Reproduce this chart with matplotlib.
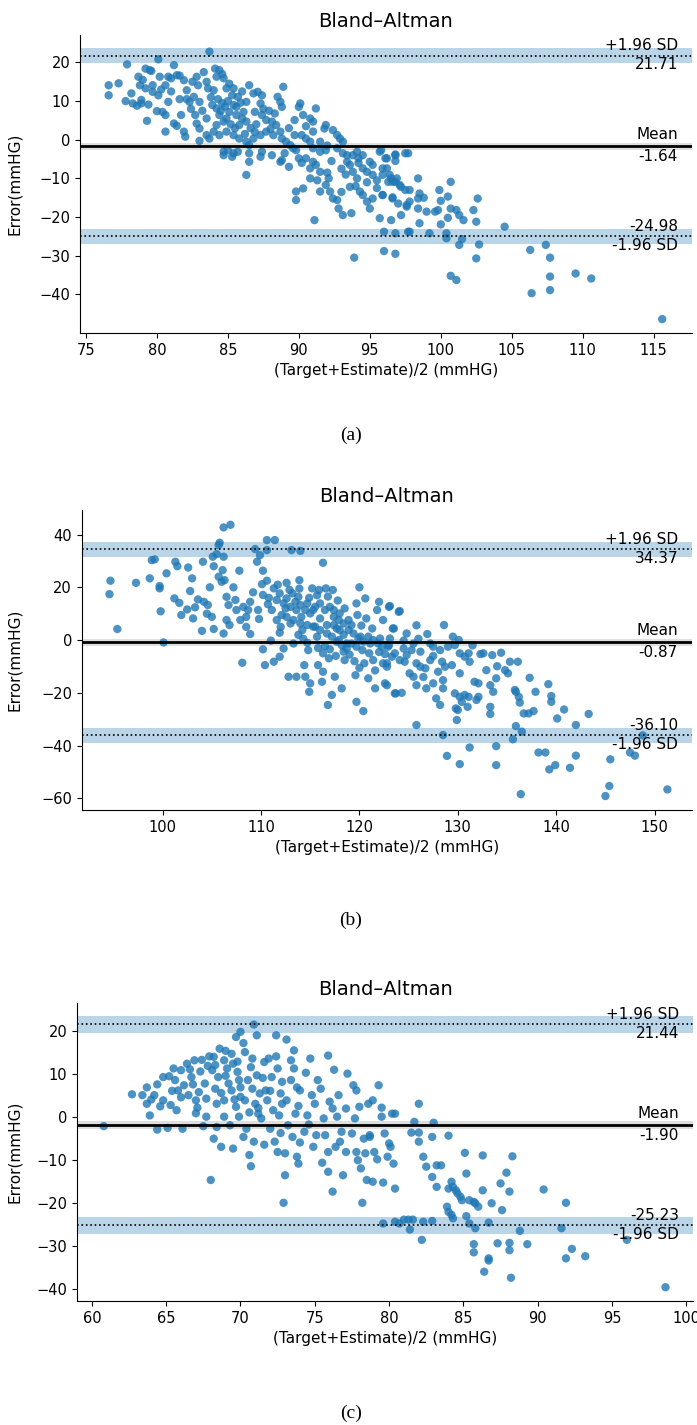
import numpy as np
import matplotlib
matplotlib.use('Agg')
import matplotlib.pyplot as plt
import matplotlib.transforms as mtransforms

# ---- data: (mean, difference) ----
a_points = [
    (83.7, 22.8), (77.9, 19.5), (80.1, 20.8), (81.2, 19.3), (76.6, 14.1), (76.6, 11.5), (77.3, 14.6),
    (79.2, 18.4), (79.5, 18.0), (79.6, 17.8), (78.7, 16.3), (78.8, 14.1), (79.2, 13.3), (79.7, 14.1),
    (79.7, 12.4), (80.1, 11.5), (80.2, 16.3), (80.6, 14.1), (80.8, 16.3), (81.0, 15.9), (81.4, 16.7),
    (81.6, 16.6), (81.9, 15.4), (78.3, 9.4), (78.6, 8.8), (78.9, 10.3), (78.9, 9.4), (79.4, 9.1),
    (80.0, 7.4), (80.4, 7.2), (80.6, 6.4), (80.8, 9.8), (81.2, 4.2), (81.4, 3.6), (81.9, 2.1),
    (80.6, 2.1), (79.3, 4.9), (81.6, 10.5), (82.1, 12.8), (82.1, 10.5), (82.3, 9.8), (82.6, 11.1),
    (82.8, 16.3), (82.9, 14.1), (83.0, 9.8), (82.7, 6.4), (81.7, 6.4), (82.8, 4.2), (83.0, 2.9),
    (83.5, 1.2), (83.5, 5.5), (84.1, 18.4), (84.4, 18.0), (84.2, 16.3), (84.7, 15.9), (84.9, 13.3),
    (85.4, 13.3), (85.7, 11.1), (86.3, 9.8), (83.5, 15.0), (83.6, 13.3), (84.0, 12.8), (83.9, 9.0),
    (84.2, 8.1), (84.4, 6.4), (84.7, 4.7), (84.9, 5.5), (85.1, 7.2), (85.4, 9.0), (85.6, 6.4),
    (85.8, 3.8), (86.1, 7.2), (86.3, 4.7), (84.2, 3.8), (84.0, 2.1), (84.4, 1.2), (84.9, 2.1),
    (85.4, 1.2), (85.8, 0.3), (86.3, -0.5), (83.7, 0.3), (84.7, -3.1), (85.0, -2.7), (85.4, -3.5),
    (85.7, -3.1), (85.3, -4.4), (84.7, -4.0), (86.5, 14.1), (86.8, 12.0), (87.1, 12.4), (87.4, 11.5),
    (87.3, 9.4), (86.9, 7.2), (87.4, 6.4), (87.7, 5.1), (88.1, 4.7), (88.4, 3.8), (88.5, 11.1),
    (88.7, 9.8), (88.9, 13.7), (88.8, 8.5), (88.3, 6.8), (86.5, -1.4), (86.8, 0.3), (87.3, 1.2),
    (87.7, 2.1), (88.2, 1.2), (88.7, 2.1), (88.8, 0.3), (89.1, -0.5), (89.4, -1.4), (89.6, -2.2),
    (89.8, -2.7), (90.0, -4.8), (87.4, -3.1), (88.1, -4.0), (87.3, -4.4), (86.5, -5.7), (86.5, -3.5),
    (88.7, -5.7), (88.8, -5.3), (86.3, -9.1), (90.1, 9.4), (90.0, 8.5), (90.3, 6.4), (90.8, 5.5),
    (91.0, 4.7), (91.2, 8.1), (89.7, 5.1), (89.7, 1.2), (90.2, 1.2), (90.5, 0.3), (91.0, 2.1),
    (90.8, -0.5), (91.5, -0.5), (91.9, 3.8), (91.8, 2.9), (92.4, 2.5), (92.7, 1.2), (92.9, 0.3),
    (93.1, -0.5), (91.0, -2.2), (91.5, -3.1), (91.9, -2.7), (90.5, -4.8), (91.0, -5.7), (90.8, -7.4),
    (91.2, -6.5), (91.5, -8.3), (90.8, -10.0), (90.3, -12.6), (89.8, -13.4), (89.8, -15.6),
    (91.5, -13.4), (92.1, -10.0), (91.9, -11.7), (92.2, -13.4), (92.4, -15.2), (92.7, -15.6),
    (92.8, -17.8), (93.1, -19.5), (93.7, -19.0), (91.1, -20.8), (92.7, -2.2), (93.1, -3.5),
    (93.4, -4.0), (93.8, -4.0), (94.1, -3.1), (94.2, -4.8), (94.5, -4.0), (93.4, -5.7), (93.6, -6.5),
    (93.8, -8.3), (94.1, -10.0), (93.6, -12.2), (94.5, -7.4), (94.8, -8.3), (95.0, -5.7), (95.2, -6.5),
    (95.2, -9.1), (95.7, -3.1), (96.2, -4.8), (96.8, -4.0), (97.5, -3.5), (94.3, -13.4), (94.5, -14.3),
    (94.8, -16.0), (95.0, -17.8), (95.2, -15.2), (95.7, -20.3), (95.9, -14.3), (96.2, -7.4),
    (96.4, -9.1), (96.6, -10.9), (96.9, -10.0), (97.1, -11.7), (96.6, -15.2), (97.0, -16.5),
    (97.2, -19.5), (97.6, -16.9), (96.5, -20.8), (96.0, -23.8), (96.8, -24.2), (97.7, -23.8),
    (96.0, -28.8), (96.8, -29.5), (93.9, -30.5), (95.8, -2.7), (96.1, -4.8), (96.8, -3.8),
    (96.8, -5.5), (97.7, -3.5), (95.9, -7.4), (96.5, -10.0), (96.8, -10.9), (97.2, -12.2),
    (97.5, -13.0), (97.8, -13.0), (98.4, -10.0), (95.9, -9.1), (96.3, -10.9), (95.9, -14.3),
    (96.6, -14.9), (97.6, -17.3), (97.8, -16.0), (98.4, -15.2), (98.5, -13.9), (98.8, -15.0),
    (98.4, -17.8), (99.0, -18.6), (99.6, -18.6), (99.8, -18.2), (99.9, -13.0), (100.0, -15.8),
    (100.5, -14.7), (100.7, -10.9), (100.7, -17.8), (101.1, -18.2), (101.3, -19.5), (101.6, -20.8),
    (102.3, -18.2), (102.5, -21.2), (102.6, -15.2), (100.5, -20.2), (100.0, -21.9), (98.5, -21.6),
    (97.8, -23.8), (99.2, -24.2), (100.4, -24.2), (100.4, -25.5), (101.3, -27.2), (101.5, -25.7),
    (102.7, -27.1), (104.5, -22.5), (102.5, -30.7), (100.7, -35.2), (101.1, -36.3), (106.3, -28.5),
    (107.4, -27.2), (107.7, -30.5), (107.7, -35.4), (107.7, -38.9), (106.4, -39.7), (109.5, -34.6),
    (110.6, -35.9), (115.6, -46.4),
    (83.8, 11.0), (84.3, 10.5), (84.6, 9.5), (85.0, 10.0), (85.3, 11.5), (85.6, 8.5), (85.9, 9.6),
    (86.0, 5.5), (86.6, 3.0), (86.9, 2.0), (87.0, 4.0), (87.5, 8.0), (87.9, 7.5), (88.0, 2.8),
    (84.5, 7.5), (84.8, 8.6), (85.2, 4.0), (85.5, 3.0), (86.2, 1.5), (86.0, 12.5), (85.1, 14.5),
    (84.6, 17.0), (83.3, 17.5), (82.5, 15.0), (83.2, 7.5), (82.4, 8.0), (81.0, 12.5), (80.3, 13.0),
    (79.0, 15.5), (78.2, 12.0), (77.8, 10.0), (82.0, 0.8), (83.0, -0.3), (89.0, -3.5), (89.3, 3.0),
    (90.5, 3.5), (92.0, -1.5), (92.3, -5.5), (93.3, -9.0), (94.0, -12.0), (94.8, -11.0), (95.5, -12.5),
    (95.5, -10.5), (94.2, -6.0), (93.0, -7.5), (92.0, -8.5), (91.3, -10.5), (93.0, -13.5), (90.2, -6.0),
    (89.3, -7.0),
]

b_points = [
    (94.7, 22.5), (94.6, 17.4), (95.4, 4.2), (97.3, 21.7), (98.7, 23.4), (98.9, 30.3), (99.2, 30.6),
    (99.7, 20.5), (99.7, 19.6), (99.8, 10.9), (100.1, -0.9), (100.4, 25.3), (101.3, 29.7), (101.5, 28.0),
    (101.2, 15.8), (101.7, 14.1), (101.9, 9.5), (102.5, 11.6), (102.6, 27.5), (102.8, 18.6), (103.0, 23.4),
    (103.1, 8.2), (103.3, 12.4), (103.6, 15.4), (104.0, 3.5), (104.1, 29.7), (104.2, 14.5), (104.6, 13.3),
    (104.8, 20.0), (105.0, 8.8), (105.1, 31.6), (105.2, 4.2), (105.2, 28.0), (105.5, 32.6), (105.7, 36.0),
    (105.8, 36.9), (105.7, 24.0), (106.0, 22.1), (106.1, 26.5), (106.2, 31.6), (106.2, 42.7), (106.9, 43.7),
    (106.3, 22.7), (106.5, 16.4), (106.7, 13.3), (106.5, 7.6), (106.2, 2.5), (106.8, 5.7), (107.4, 15.2),
    (107.5, 11.4), (107.8, 26.3), (107.9, 7.6), (108.1, -8.6), (108.2, 12.6), (108.5, 8.8), (108.7, 11.4),
    (108.9, 14.5), (108.9, 2.3), (109.2, 18.1), (109.4, 34.5), (109.6, 29.7), (109.7, 11.4), (109.9, 32.2),
    (110.1, 21.2), (110.2, 26.3), (110.2, -3.5), (110.2, 17.1), (110.4, -9.5), (110.6, 37.9), (110.6, 34.1),
    (110.6, 22.5), (110.7, 13.6), (111.0, -0.2), (111.1, 11.4), (111.3, -8.2), (111.3, 19.6), (111.4, 37.9),
    (111.6, 7.6), (111.9, -6.3), (111.9, 17.7), (111.9, 2.8), (112.1, 9.5), (112.3, -3.2), (112.5, 12.0),
    (112.6, 21.7), (112.6, 15.8), (112.8, -13.9), (113.0, 6.3), (113.1, 34.1), (113.2, 17.7), (113.3, -1.3),
    (113.6, 11.4), (113.6, -13.9), (113.8, 16.4), (113.9, 22.7), (114.0, 33.8), (114.1, 8.8), (114.2, 3.8),
    (114.4, -9.5), (114.5, -13.9), (114.7, 13.9), (114.7, -1.0), (114.8, -3.8), (114.9, -19.6),
    (115.0, -16.4), (115.2, 19.6), (115.3, 11.4), (115.5, 5.1), (115.7, 17.0), (115.7, 1.3), (115.8, -9.5),
    (116.0, 8.2), (116.2, -15.8), (116.3, 29.3), (116.3, -12.0), (116.5, -2.3), (116.6, 19.6), (116.7, 5.7),
    (116.8, -24.6), (116.9, -6.9), (117.2, -20.8), (117.3, 19.0), (117.4, 11.4), (117.5, -13.9), (117.7, 4.4),
    (117.9, 0.0), (118.0, 10.1), (118.2, -18.3), (118.4, -4.4), (118.5, -7.6), (118.7, -1.3), (118.9, 7.6),
    (119.2, 5.7), (119.6, -13.3), (119.7, -23.4), (119.7, 13.9), (120.0, 20.0), (120.1, 1.3), (120.3, -3.8),
    (120.4, -26.9), (120.5, -8.8), (120.6, 15.8), (120.7, 8.2), (120.9, -14.5), (121.1, -1.3), (121.3, 4.4),
    (121.4, -7.6), (121.6, -18.3), (121.8, 11.4), (122.0, 14.5), (122.3, -2.5), (122.4, 7.6), (122.6, -16.4),
    (122.8, -8.8), (123.0, 12.6), (123.3, -6.3), (123.5, 4.4), (123.7, -20.2), (124.0, 10.7),
    (111.6, 15.2), (112.3, 13.9), (113.0, 12.6), (113.5, 14.5), (114.0, 13.3), (114.5, 11.4), (115.0, 10.1),
    (115.5, 12.6), (116.0, 13.9), (116.5, 11.4), (117.0, 12.6), (117.4, 8.8), (117.9, 7.6), (118.4, 6.3),
    (118.9, 3.8), (119.4, 2.5), (119.9, 0.6), (120.4, -0.6), (120.9, 1.3), (121.4, 0.0), (121.9, -1.3),
    (112.6, 8.8), (113.3, 7.6), (114.0, 6.3), (114.7, 5.7), (115.3, 5.1), (116.0, 3.8), (116.7, 2.5),
    (117.2, 1.3), (117.7, -0.6), (118.2, -1.9), (118.7, -3.2), (119.2, -1.3), (119.7, -2.5), (118.0, 3.8),
    (117.4, 5.7),
    (112.0, 5.0), (113.8, 2.0), (114.3, 0.5), (115.8, -3.0), (116.3, -5.0), (117.0, -3.5), (117.6, -6.0),
    (118.4, 2.0), (119.0, -5.5), (119.5, -8.0), (120.0, -10.5), (121.0, -5.0), (121.6, -11.5), (122.0, -4.5),
    (123.0, -2.0), (120.2, 5.5), (119.8, 9.5), (118.5, 12.0), (117.8, 15.0), (116.8, 16.5), (115.9, 19.0),
    (114.9, 16.0), (113.9, 19.5), (112.9, 19.0), (111.7, 21.0), (110.8, 16.0), (109.8, 8.0), (108.5, 5.0),
    (107.2, 20.0), (104.5, 10.0), (124.8, 2.5), (126.0, 0.5), (127.5, -6.0), (128.0, -12.0), (126.5, -14.0),
    (131.5, -2.0),
    (123.1, 12.9), (124.1, 11.0), (123.4, 4.4), (122.1, 0.6), (123.1, 0.6), (124.5, -0.2), (125.8, 5.6),
    (126.9, 2.3), (128.6, 5.7), (129.5, 1.3), (130.1, 0.0), (127.2, -1.3), (125.5, -1.3), (122.9, -2.5),
    (124.5, -3.2), (125.3, -3.8), (126.2, -4.4), (127.5, -2.5), (128.2, -3.8), (129.0, -2.5), (129.7, -1.9),
    (122.6, -5.3), (123.6, -5.0), (124.8, -5.7), (122.4, -8.8), (122.8, -10.1), (124.1, -7.6), (124.6, -8.2),
    (125.8, -8.8), (126.2, -10.1), (126.7, -10.7), (127.2, -7.6), (128.4, -8.2), (128.7, -10.1),
    (129.4, -9.5), (130.2, -5.0), (130.7, -6.3), (131.1, -5.0), (132.3, -5.3), (132.6, -5.0), (133.5, -5.7),
    (134.4, -4.8), (135.3, -8.2), (136.1, -8.2), (131.2, -8.2), (134.0, -9.9), (134.8, -11.4),
    (135.1, -12.6), (132.9, -11.4), (130.2, -12.6), (131.7, -15.8), (132.1, -16.4), (133.3, -17.1),
    (133.9, -14.5), (125.1, -12.6), (125.5, -13.9), (125.8, -17.1), (122.8, -17.1), (123.6, -20.2),
    (124.3, -20.0), (126.8, -18.3), (127.5, -16.4), (128.5, -15.2), (128.5, -18.3), (129.7, -20.2),
    (130.2, -21.5), (130.7, -20.8), (131.1, -21.5), (130.4, -23.4), (127.8, -22.1), (128.2, -24.6),
    (129.8, -25.9), (130.0, -26.5), (131.0, -25.3), (132.1, -21.5), (131.9, -22.7), (129.9, -30.3),
    (133.3, -25.3), (133.3, -28.0), (133.6, -19.6), (135.8, -18.9), (135.9, -19.6), (136.2, -21.5),
    (136.3, -23.7), (136.7, -27.8), (137.2, -27.8), (137.7, -26.9), (137.3, -14.3), (137.9, -19.6),
    (139.2, -16.7), (139.5, -21.2), (139.5, -23.4), (140.8, -26.3), (140.1, -29.7), (142.0, -32.2),
    (143.3, -28.0), (125.8, -32.2), (128.5, -36.0), (135.9, -32.6), (136.5, -34.7), (135.6, -37.6),
    (131.2, -40.7), (133.9, -40.2), (128.9, -43.9), (130.2, -47.0), (133.9, -47.4), (138.2, -42.6),
    (138.9, -42.6), (142.0, -43.8), (139.3, -49.0), (139.9, -47.4), (141.4, -48.4), (145.5, -45.2),
    (147.5, -42.6), (148.0, -43.8), (148.8, -36.1), (145.4, -55.3), (145.0, -59.1), (136.4, -58.4),
    (151.3, -56.6),
]

c_points = [
    (60.8, -2.2), (62.7, 5.2), (63.4, 5.0), (63.7, 6.8), (63.7, 3.0), (63.9, 0.3), (64.0, 4.0), (64.2, 5.0),
    (64.4, 7.5), (64.4, -3.0), (64.6, 2.4), (64.8, 3.8), (64.8, 9.2), (65.1, -2.6), (65.2, 9.4), (65.3, 2.7),
    (65.5, 11.2), (65.6, 8.5), (65.7, 1.5), (65.8, 6.1), (66.0, 10.8), (66.1, -2.8), (66.2, 7.3),
    (66.4, 12.3), (66.5, 5.0), (66.7, 9.2), (66.9, 13.1), (67.0, 3.8), (67.1, 2.1), (67.2, 5.7),
    (67.4, 13.2), (67.5, -2.2), (67.6, 7.7), (67.7, 4.2), (67.7, 0.0), (67.9, 14.0), (68.0, -14.7),
    (68.1, 10.8), (68.2, 13.9), (68.2, -5.1), (68.3, 6.5), (68.4, -2.4), (68.4, 3.0), (68.5, 9.2),
    (68.6, 15.8), (68.7, -7.0), (68.9, 13.1), (68.9, 3.8), (68.9, 0.0), (69.0, 15.3), (69.1, 11.2),
    (69.2, 7.7), (69.3, -2.0), (69.4, 14.6), (69.4, 6.1), (69.5, -7.4), (69.5, 12.3), (69.7, 2.3),
    (69.7, 18.5), (69.8, 10.4), (69.9, 0.0), (69.9, 8.5), (70.0, 4.6), (70.0, 19.7), (70.2, 17.1),
    (70.2, -4.7), (70.3, 15.0), (70.3, 3.8), (70.4, -2.8), (70.6, -8.9), (70.7, 11.5), (70.7, -11.5),
    (70.8, 6.5), (70.9, 21.4), (70.9, -5.8), (71.0, 3.0), (71.1, 18.9), (71.1, 9.6), (71.2, 0.7),
    (71.3, 5.4), (71.4, -0.4), (71.6, 12.7), (71.7, 6.1), (71.8, 3.8), (71.9, 13.5), (72.0, -2.8),
    (72.1, 9.2), (72.2, 1.5), (72.3, -5.8), (72.4, 18.9), (72.5, 11.2), (72.5, -8.2), (72.6, 0.3),
    (72.7, 5.4), (72.8, 8.1), (72.9, -20.0), (73.0, -8.5), (73.0, -13.6), (73.1, 17.9), (73.1, 3.8),
    (73.2, -2.0), (73.4, 13.1), (73.5, -4.7), (73.6, 15.4), (73.6, 11.2), (73.7, 0.7), (73.8, 6.8),
    (73.8, -9.3), (73.9, -10.9), (74.0, 6.1), (74.3, -3.5), (74.4, 10.2), (74.5, 0.3), (74.7, 13.5),
    (74.8, 5.0), (74.9, -7.0), (75.0, 3.0), (75.1, -4.3), (75.4, 6.5), (75.5, -10.7), (75.6, -0.4),
    (75.7, -4.3), (75.9, 14.2), (75.9, -12.8), (75.9, -8.2), (76.2, 1.9), (76.3, 10.9), (76.2, -17.4),
    (76.5, 0.0), (76.6, 5.0), (76.7, -5.8), (76.8, -3.5), (76.9, -13.6), (77.1, -8.2), (77.2, 10.0),
    (77.1, 1.9), (77.5, -3.9), (77.6, 7.3), (77.7, -0.4), (77.8, 6.1), (77.8, -8.2), (77.9, -10.1),
    (78.0, 2.3), (78.1, -12.0), (78.2, -20.0), (78.3, -5.1), (78.4, -8.5), (78.5, -14.7), (78.6, 3.0),
    (78.7, -4.3), (78.7, -4.7), (78.9, 3.8), (78.9, -15.1), (79.0, -8.2), (79.2, -9.9), (79.3, 7.3),
    (79.5, 0.0), (79.5, 2.1), (79.6, -15.3), (79.7, -3.9), (79.9, -9.3), (80.0, -6.2), (80.1, -7.0),
    (80.2, 0.7), (80.3, -10.9), (80.4, -16.7), (79.6, -24.8), (80.4, -24.4),
    (66.0, 4.5), (66.8, 7.5), (67.3, 10.5), (67.8, 11.8), (68.7, 5.5), (69.0, 9.5), (69.6, 4.0),
    (70.0, 6.8), (70.5, 8.5), (70.8, 13.5), (71.5, 9.0), (71.2, 2.0), (72.0, 6.0), (72.8, 3.0),
    (73.4, 8.5), (72.4, 14.0), (69.8, 12.8), (68.3, 12.0), (66.6, 11.0), (65.4, 6.0), (67.0, 0.8),
    (70.6, 1.0), (73.9, 2.5), (75.2, 8.5), (76.0, 3.5), (74.6, -1.8), (72.7, -3.8), (71.6, -6.5),
    (74.0, -6.0), (76.4, -7.0),
    (82.0, 3.0), (80.4, 0.7), (81.7, -1.2), (83.0, -1.4), (84.0, -4.4), (82.0, -3.7), (81.5, -3.7),
    (82.9, -4.7), (82.0, -5.8), (82.3, -9.3), (82.5, -11.6), (83.2, -11.3), (83.5, -11.3), (82.9, -14.0),
    (83.2, -16.3), (84.0, -16.7), (84.2, -15.1), (84.3, -16.3), (84.5, -17.1), (85.1, -8.4), (85.2, -13.2),
    (84.6, -17.8), (84.8, -18.6), (84.9, -19.4), (85.4, -19.4), (85.7, -19.8), (85.8, -20.1), (86.0, -20.9),
    (86.3, -17.1), (86.3, -9.0), (86.9, -20.1), (87.5, -15.5), (87.6, -21.7), (87.9, -13.0), (88.1, -17.4),
    (88.3, -9.2), (83.9, -20.9), (84.0, -22.1), (84.2, -22.8), (84.3, -23.6), (85.2, -23.1),
    (80.7, -24.8), (81.0, -23.9), (81.3, -23.9), (81.6, -23.9), (81.4, -26.2), (82.3, -24.4), (82.9, -24.2),
    (82.2, -28.6), (85.4, -24.8), (85.8, -25.9), (85.7, -29.6), (85.7, -31.5), (86.7, -32.9), (86.7, -33.4),
    (86.4, -36.0), (86.7, -24.6), (87.3, -29.4), (88.1, -29.3), (88.1, -31.0), (88.2, -37.4), (88.8, -26.5),
    (89.3, -29.6), (90.4, -16.9), (91.6, -25.9), (91.9, -20.0), (91.9, -32.9), (92.3, -30.7), (93.2, -32.4),
    (96.0, -28.6), (98.6, -39.6),
]

# mean difference, upper / lower limits of agreement, CI half-widths
a_stats = (-1.64, 21.71, -24.98)
b_stats = (-0.87, 34.37, -36.10)
c_stats = (-1.90, 21.44, -25.23)
a_ci = (0.9, 1.9)
b_ci = (1.4, 2.75)
c_ci = (1.0, 1.95)

a_xlim, a_ylim = (74.58, 117.7), (-50.0, 27.1)
b_xlim, b_ylim = (91.78, 153.8), (-64.4, 49.3)
c_xlim, c_ylim = (59.0, 100.45), (-42.8, 26.4)

a_xticks, a_yticks = np.arange(75, 116, 5), np.arange(-40, 21, 10)
b_xticks, b_yticks = np.arange(100, 151, 10), np.arange(-60, 41, 20)
c_xticks, c_yticks = np.arange(60, 101, 5), np.arange(-40, 21, 10)

captions = ['(a)', '(b)', '(c)']


def bland_altman(ax, points, stats, ci, xlim, ylim, xticks, yticks):
    pts = np.array(points)
    md, hi, lo = stats
    ci_mean, ci_lim = ci

    # confidence bands
    ax.axhspan(hi - ci_lim, hi + ci_lim, color='tab:blue', alpha=0.3, lw=0, zorder=0)
    ax.axhspan(lo - ci_lim, lo + ci_lim, color='tab:blue', alpha=0.3, lw=0, zorder=0)
    ax.axhspan(md - ci_mean, md + ci_mean, color='grey', alpha=0.25, lw=0, zorder=0)

    ax.scatter(pts[:, 0], pts[:, 1], s=36, color='tab:blue', alpha=0.8,
               edgecolors='none', zorder=2)

    ax.axhline(md, color='k', lw=2, zorder=3)
    ax.axhline(hi, color='k', ls=':', lw=1.2, zorder=3)
    ax.axhline(lo, color='k', ls=':', lw=1.2, zorder=3)

    trans = mtransforms.blended_transform_factory(ax.transAxes, ax.transData)
    kw = dict(xycoords=trans, textcoords='offset points', ha='right', fontsize=11)
    ax.annotate('+1.96 SD', xy=(0.977, hi), xytext=(0, 2), va='bottom', **kw)
    ax.annotate('%.2f' % hi, xy=(0.977, hi), xytext=(0, -1), va='top', **kw)
    ax.annotate('Mean', xy=(0.977, md), xytext=(0, 3), va='bottom', **kw)
    ax.annotate('%.2f' % md, xy=(0.977, md), xytext=(0, -2), va='top', **kw)
    ax.annotate('%.2f' % lo, xy=(0.977, lo), xytext=(0, 2), va='bottom', **kw)
    ax.annotate('-1.96 SD', xy=(0.977, lo), xytext=(0, -1), va='top', **kw)

    ax.set_xlim(xlim)
    ax.set_ylim(ylim)
    ax.set_xticks(xticks)
    ax.set_yticks(yticks)
    ax.tick_params(labelsize=10.5)
    ax.set_title('Bland\u2013Altman', fontsize=14)
    ax.set_xlabel('(Target+Estimate)/2 (mmHG)', fontsize=11)
    ax.set_ylabel('Error(mmHG)', fontsize=11)
    ax.spines['top'].set_visible(False)
    ax.spines['right'].set_visible(False)


W, H = 697, 1425
fig = plt.figure(figsize=(W / 100, H / 100), dpi=100)

# axes boxes in pixels: left, top, right, bottom
boxes = [(80, 35, 692, 333), (81.7, 510, 692, 810), (77, 1003, 693, 1301)]
cap_y = [435, 920, 1413]

panels = [
    (a_points, a_stats, a_ci, a_xlim, a_ylim, a_xticks, a_yticks),
    (b_points, b_stats, b_ci, b_xlim, b_ylim, b_xticks, b_yticks),
    (c_points, c_stats, c_ci, c_xlim, c_ylim, c_xticks, c_yticks),
]

for (l, t, r, b), args, cap, cy in zip(boxes, panels, captions, cap_y):
    ax = fig.add_axes([l / W, 1 - b / H, (r - l) / W, (b - t) / H])
    bland_altman(ax, *args)
    ax.yaxis.set_label_coords(-(l - 22) / (r - l), 0.5)
    fig.text(0.503, 1 - cy / H, cap, ha='center', va='center',
             fontsize=14, family=['Liberation Serif', 'DejaVu Serif'])

fig.savefig('out.png', dpi=100)
